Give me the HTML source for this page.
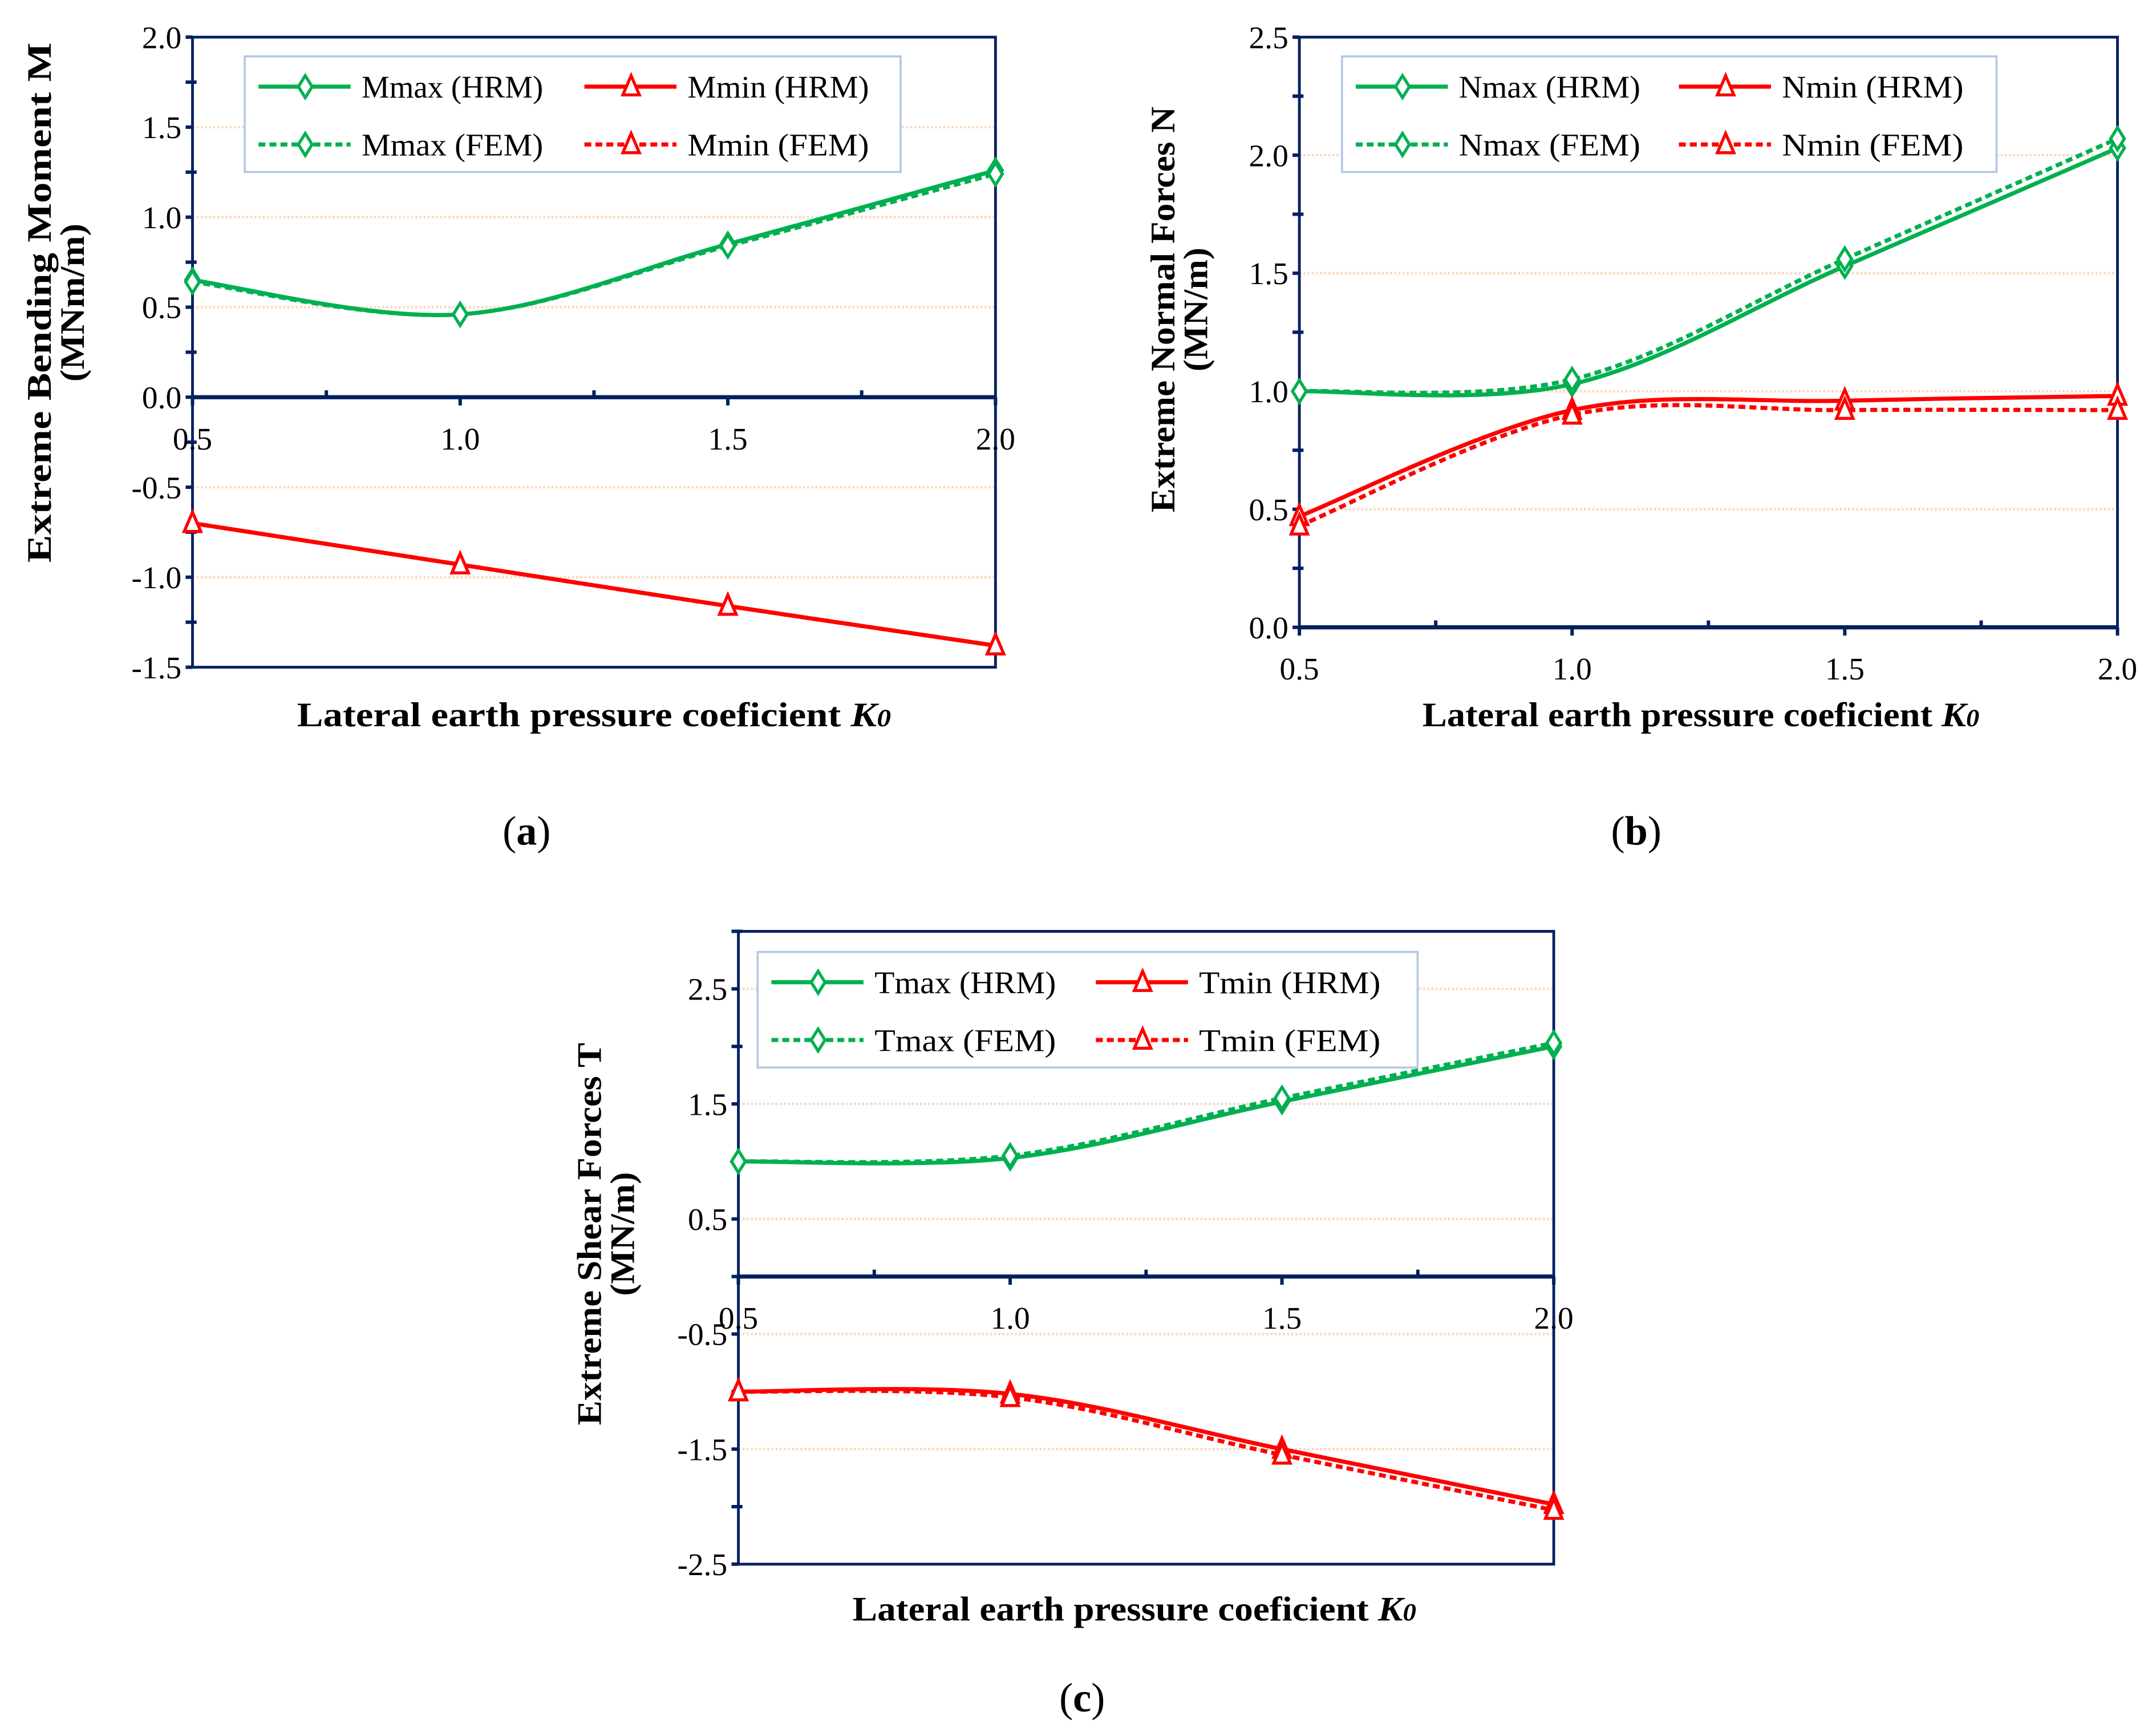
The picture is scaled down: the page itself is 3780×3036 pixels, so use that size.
<!DOCTYPE html>
<html><head><meta charset="utf-8"><style>
html,body{margin:0;padding:0;background:#fff;}
svg{display:block;}
text{font-family:"Liberation Serif",serif;fill:#000;}
</style></head><body>
<svg id="fig" width="3780" height="3036" viewBox="0 0 1568 1259" preserveAspectRatio="none" xmlns="http://www.w3.org/2000/svg"></svg>
<script>
const xCats=[0.5,1.0,1.5,2.0];
const xTickLabels=["0.5","1.0","1.5","2.0"];
// Chart a
const aMaxHRM=[0.65,0.46,0.85,1.26];
const aMaxFEM=[0.64,0.46,0.84,1.24];
const aMinHRM=[-0.70,-0.93,-1.16,-1.38];
const aMinFEM=[-0.70,-0.93,-1.16,-1.38];
const aYTicks=["2.0","1.5","1.0","0.5","0.0","-0.5","-1.0","-1.5"];
// Chart b
const bMaxHRM=[1.00,1.03,1.53,2.03];
const bMaxFEM=[1.00,1.05,1.56,2.07];
const bMinHRM=[0.47,0.92,0.96,0.98];
const bMinFEM=[0.43,0.90,0.92,0.92];
const bYTicks=["2.5","2.0","1.5","1.0","0.5","0.0"];
// Chart c
const cMaxHRM=[1.00,1.03,1.52,2.00];
const cMaxFEM=[1.00,1.05,1.55,2.03];
const cMinHRM=[-1.00,-1.02,-1.50,-1.98];
const cMinFEM=[-1.00,-1.05,-1.55,-2.03];
const cYTicks=["2.5","1.5","0.5","-0.5","-1.5","-2.5"];

const NS="http://www.w3.org/2000/svg";
const svg=document.getElementById('fig');
const GREEN="#00b050",RED="#ff0000",AXIS="#002060";
function el(tag,attrs,parent,txt){const e=document.createElementNS(NS,tag);for(const k in attrs)e.setAttribute(k,attrs[k]);if(txt!==undefined)e.textContent=txt;(parent||svg).appendChild(e);return e;}
function spline(pts){let d=`M${pts[0][0]},${pts[0][1]}`;for(let i=0;i<pts.length-1;i++){const p0=pts[Math.max(0,i-1)],p1=pts[i],p2=pts[i+1],p3=pts[Math.min(pts.length-1,i+2)];const t=1/3;const c1=[p1[0]+(p2[0]-p0[0])*t/2,p1[1]+(p2[1]-p0[1])*t/2];const c2=[p2[0]-(p3[0]-p1[0])*t/2,p2[1]-(p3[1]-p1[1])*t/2];d+=` C${c1[0]},${c1[1]} ${c2[0]},${c2[1]} ${p2[0]},${p2[1]}`;}return d;}
function diamond(g,x,y){return el('path',{d:`M${x},${y-8} L${x+5},${y} L${x},${y+8} L${x-5},${y} Z`,fill:'#fff',stroke:GREEN,'stroke-width':2.2},g);}
function tri(g,x,y){return el('path',{d:`M${x},${y-8} L${x+6},${y+6} L${x-6},${y+6} Z`,fill:'#fff',stroke:RED,'stroke-width':2.2},g);}

function chart(cfg){
  const g=el('g',{});
  
  
  const X=v=>cfg.L+(v-0.5)/1.5*(cfg.R-cfg.L);
  const Y=v=>cfg.B-(v-cfg.ymin)/(cfg.ymax-cfg.ymin)*(cfg.B-cfg.T);
  cfg.ticks.forEach(t=>{const v=parseFloat(t);if(v===0)return;const gl=el('line',{x1:cfg.L,x2:cfg.R,y1:Y(v),y2:Y(v),stroke:'#f8d9c0','stroke-width':1.8,'stroke-dasharray':'1.5 1.5'},g);});
  const fr=el('rect',{x:cfg.L,y:cfg.T,width:cfg.R-cfg.L,height:cfg.B-cfg.T,fill:'none',stroke:AXIS,'stroke-width':2},g);
  
  for(let v=cfg.ymin;v<=cfg.ymax+1e-9;v+=cfg.minor){el('line',{x1:cfg.L-5,x2:cfg.L+(Math.abs(((v-cfg.ymin)/cfg.major)%1)<1e-6?0:3),y1:Y(v),y2:Y(v),stroke:AXIS,'stroke-width':2.5},g);}
  cfg.ticks.forEach(t=>{const tx=el('text',{x:cfg.L-8,y:Y(parseFloat(t))+8,'text-anchor':'end','font-size':23},g,t);});
  const y0=Y(0);
  const xa=el('line',{x1:cfg.L,x2:cfg.R,y1:y0,y2:y0,stroke:AXIS,'stroke-width':3},g);
  
  for(let v=0.5;v<=2.0001;v+=0.25){const major=Math.abs((v*2)%1)<1e-6;el('line',{x1:X(v),x2:X(v),y1:y0-(major?0:5),y2:y0+(major?6:0),stroke:AXIS,'stroke-width':2.5},g);}
  xCats.forEach((c,i)=>{const tx=el('text',{x:X(c),y:y0+38,'text-anchor':'middle','font-size':23},g,xTickLabels[i]);});
  cfg.series.forEach(s=>{const pts=xCats.map((c,i)=>[X(c),Y(s.vals[i])]);const sg=el('g',{},g);
    el('path',{d:spline(pts),fill:'none',stroke:s.color,'stroke-width':3,'stroke-dasharray':s.dash?'5 3':'none'},sg);
    pts.forEach(p=>{const m=s.marker==='d'?diamond(sg,p[0],p[1]):tri(sg,p[0],p[1]);});});
  const lg=el('g',{},g);
  el('rect',{x:cfg.lg.x,y:cfg.lg.y,width:cfg.lg.w,height:84,fill:'#fff',stroke:'#b4c7e7','stroke-width':1.5},lg);
  cfg.series.forEach((s,i)=>{const col=i%2,row=Math.floor(i/2);const lx=cfg.lg.x+10+col*cfg.lg.col;const ly=cfg.lg.y+22+row*42;const e=el('g',{},lg);
    el('line',{x1:lx,x2:lx+67,y1:ly,y2:ly,stroke:s.color,'stroke-width':3,'stroke-dasharray':s.dash?'5 3':'none'},e);
    if(s.marker==='d')diamond(e,lx+34,ly);else tri(e,lx+34,ly);
    el('text',{x:lx+75,y:ly+8,'font-size':23,textLength:s.label.length*13.2,lengthAdjust:'spacingAndGlyphs'},e,s.label);});
  const yt=el('text',{transform:`translate(${cfg.yt[0]},${cfg.yt[2]}) rotate(-90)`,'text-anchor':'middle','font-size':25,'font-weight':'bold',textLength:cfg.ytl[0],lengthAdjust:'spacingAndGlyphs'},g,cfg.ytitle);
  const yt2=el('text',{transform:`translate(${cfg.yt[1]},${cfg.yt[2]}) rotate(-90)`,'text-anchor':'middle','font-size':25,'font-weight':'bold',textLength:cfg.ytl[1],lengthAdjust:'spacingAndGlyphs'},g,cfg.yunit);
  const xt=el('text',{x:cfg.xt[0],y:cfg.xt[1],'text-anchor':'middle','font-size':25,'font-weight':'bold',textLength:cfg.xtl,lengthAdjust:'spacingAndGlyphs'},g);
  el('tspan',{},xt,'Lateral earth pressure coeficient ');el('tspan',{'font-style':'italic'},xt,'K');el('tspan',{'font-style':'italic','font-size':18},xt,'0');
  const cp=el('text',{x:cfg.cap[0],y:cfg.cap[1],'text-anchor':'middle','font-size':30},g);
  el('tspan',{},cp,'(');el('tspan',{'font-weight':'bold'},cp,cfg.letter);el('tspan',{},cp,')');
}
chart({name:'chart-a-bending-moment',L:140,R:724,T:27,B:485,ymin:-1.5,ymax:2.0,minor:0.25,major:0.5,ticks:aYTicks,
  series:[{name:'series-mmax-hrm',label:'Mmax (HRM)',vals:aMaxHRM,color:GREEN,marker:'d'},{name:'series-mmin-hrm',label:'Mmin (HRM)',vals:aMinHRM,color:RED,marker:'t'},
          {name:'series-mmax-fem',label:'Mmax (FEM)',vals:aMaxFEM,color:GREEN,marker:'d',dash:1},{name:'series-mmin-fem',label:'Mmin (FEM)',vals:aMinFEM,color:RED,marker:'t',dash:1}],
  lg:{x:178,y:41,w:477,col:237},ytitle:'Extreme Bending Moment M',yunit:'(MNm/m)',ytl:[378,115],yt:[37,61,220],xt:[432,528],xtl:432,cap:[383,614],letter:'a'});
chart({name:'chart-b-normal-forces',L:945,R:1540,T:27,B:456,ymin:0,ymax:2.5,minor:0.25,major:0.5,ticks:bYTicks,
  series:[{name:'series-nmax-hrm',label:'Nmax (HRM)',vals:bMaxHRM,color:GREEN,marker:'d'},{name:'series-nmin-hrm',label:'Nmin (HRM)',vals:bMinHRM,color:RED,marker:'t'},
          {name:'series-nmax-fem',label:'Nmax (FEM)',vals:bMaxFEM,color:GREEN,marker:'d',dash:1},{name:'series-nmin-fem',label:'Nmin (FEM)',vals:bMinFEM,color:RED,marker:'t',dash:1}],
  lg:{x:976,y:41,w:476,col:235},ytitle:'Extreme Normal Forces N',yunit:'(MN/m)',ytl:[295,90],yt:[854,878,225],xt:[1237,528],xtl:405,cap:[1190,614],letter:'b'});
chart({name:'chart-c-shear-forces',L:537,R:1130,T:677,B:1137,ymin:-2.5,ymax:3.0,minor:0.5,major:1.0,ticks:cYTicks,
  series:[{name:'series-tmax-hrm',label:'Tmax (HRM)',vals:cMaxHRM,color:GREEN,marker:'d'},{name:'series-tmin-hrm',label:'Tmin (HRM)',vals:cMinHRM,color:RED,marker:'t'},
          {name:'series-tmax-fem',label:'Tmax (FEM)',vals:cMaxFEM,color:GREEN,marker:'d',dash:1},{name:'series-tmin-fem',label:'Tmin (FEM)',vals:cMinFEM,color:RED,marker:'t',dash:1}],
  lg:{x:551,y:692,w:480,col:236},ytitle:'Extreme Shear Forces T',yunit:'(MN/m)',ytl:[278,90],yt:[437,461,897],xt:[825,1178],xtl:410,cap:[787,1244],letter:'c'});
</script>
</body></html>
